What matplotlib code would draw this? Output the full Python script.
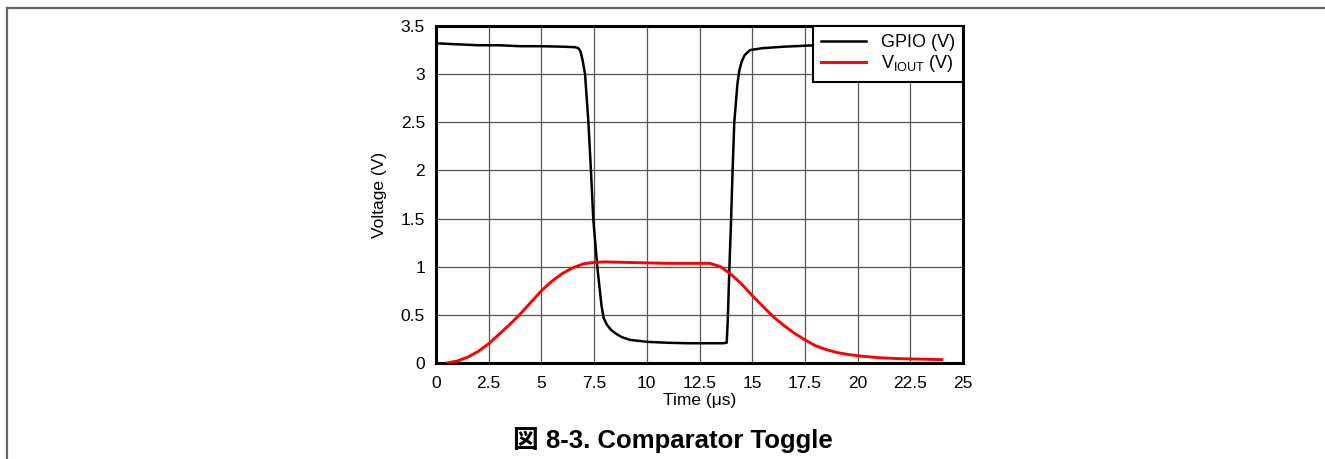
import matplotlib
matplotlib.use("Agg")
import matplotlib.pyplot as plt
from matplotlib.lines import Line2D

plt.rcParams['font.family'] = ['Liberation Sans', 'Noto Sans CJK JP', 'DejaVu Sans']
plt.rcParams['mathtext.fontset'] = 'custom'
plt.rcParams['mathtext.rm'] = 'Liberation Sans'

# GPIO (V)
gpio_t = [0, 1, 2, 3, 4, 5, 6, 6.6, 6.75, 6.85, 6.95, 7.07, 7.23, 7.35, 7.46, 7.65, 7.85,
          7.95, 8.1, 8.3, 8.5, 8.8, 9.2, 10, 11, 12, 13, 13.6, 13.79, 13.84, 13.92, 14.0,
          14.07, 14.15, 14.3, 14.4, 14.5, 14.65, 14.9, 15.5, 16.5, 18, 20, 22, 24]
gpio_v = [3.32, 3.31, 3.30, 3.30, 3.29, 3.29, 3.285, 3.28, 3.27, 3.24, 3.15, 3.0, 2.5, 2.0,
          1.5, 1.0, 0.6, 0.47, 0.40, 0.345, 0.31, 0.27, 0.24, 0.22, 0.21, 0.205, 0.205, 0.205,
          0.21, 0.44, 1.0, 1.5, 2.0, 2.5, 2.9, 3.05, 3.13, 3.2, 3.25, 3.27, 3.285, 3.30,
          3.31, 3.31, 3.31]

# VIOUT (V)
viout_t = [0.5, 1.0, 1.5, 2.0, 2.5, 3.0, 3.5, 4.0, 4.5, 5.0, 5.5, 6.0, 6.5, 7.0, 7.5, 8.0,
           9.0, 10.0, 11.0, 12.0, 13.0, 13.5, 14.0, 14.5, 15.0, 15.5, 16.0, 16.5, 17.0,
           17.5, 18.0, 18.5, 19.0, 19.5, 20.0, 21.0, 22.0, 23.0, 24.0]
viout_v = [0.0, 0.02, 0.06, 0.12, 0.2, 0.3, 0.4, 0.51, 0.63, 0.75, 0.85, 0.93, 0.99, 1.03,
           1.045, 1.05, 1.045, 1.04, 1.035, 1.035, 1.035, 1.0, 0.92, 0.82, 0.7, 0.59, 0.48,
           0.39, 0.31, 0.24, 0.18, 0.14, 0.11, 0.09, 0.075, 0.055, 0.045, 0.04, 0.035]

x_ticks = [0, 2.5, 5, 7.5, 10, 12.5, 15, 17.5, 20, 22.5, 25]
x_labels = ['0', '2.5', '5', '7.5', '10', '12.5', '15', '17.5', '20', '22.5', '25']
y_ticks = [0, 0.5, 1, 1.5, 2, 2.5, 3, 3.5]
y_labels = ['0', '0.5', '1', '1.5', '2', '2.5', '3', '3.5']

fig = plt.figure(figsize=(13.25, 4.59), dpi=100)
ax = fig.add_axes([436/1325, 1-363/459, 527/1325, 337/459])

ax.plot(gpio_t, gpio_v, color='black', lw=1.8, label='GPIO (V)', zorder=3)
ax.plot(viout_t, viout_v, color='#ff0000', lw=2.1, label=r'V$_{\mathregular{IOUT}}$ (V)', zorder=3)

ax.set_xlim(0, 25)
ax.set_ylim(0, 3.5)
ax.set_xticks(x_ticks)
ax.set_xticklabels(x_labels)
ax.set_yticks(y_ticks)
ax.set_yticklabels(y_labels)
ax.tick_params(length=0, labelsize=12.5)
ax.tick_params(axis='x', pad=9)
ax.tick_params(axis='y', pad=8)
ax.grid(True, color='#555555', lw=0.9)
ax.set_axisbelow(True)
for s in ax.spines.values():
    s.set_linewidth(2.2)
    s.set_color('black')

ax.set_xlabel('Time (μs)', fontsize=12.5, labelpad=2)
ax.set_ylabel('Voltage (V)', fontsize=12.5, labelpad=10)

leg = ax.legend(loc='upper right', borderaxespad=0, fontsize=13, fancybox=False,
                framealpha=1, edgecolor='black', handlelength=2.5, borderpad=0.45,
                labelspacing=0.1, handletextpad=0.8)
leg.get_frame().set_linewidth(1.5)

fig.text(0.508, 0.041, '図 8-3. Comparator Toggle', ha='center', va='center',
         fontsize=18.5, fontweight='bold')

fig.add_artist(Line2D([7/1325, 7/1325], [0, 1-8/459], color='#666666', lw=1.6,
                      transform=fig.transFigure))
fig.add_artist(Line2D([7/1325, 1], [1-8/459, 1-8/459], color='#666666', lw=1.6,
                      transform=fig.transFigure))

fig.savefig('out.png', dpi=100)
